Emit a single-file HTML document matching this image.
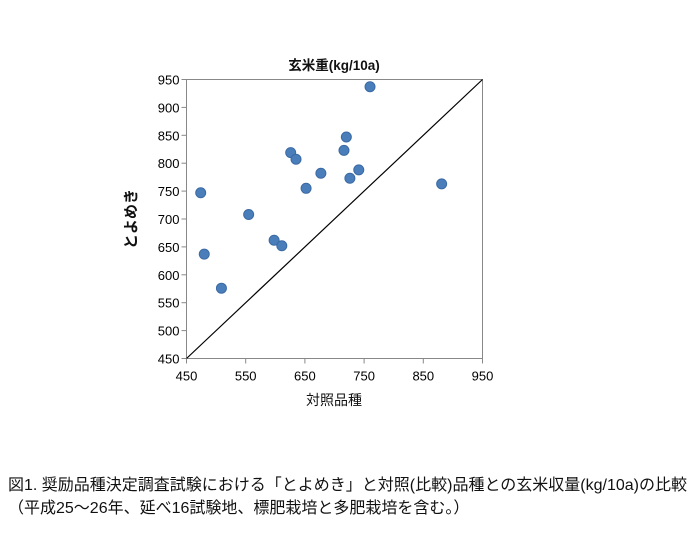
<!DOCTYPE html>
<html><head><meta charset="utf-8"><style>
body{margin:0;background:#fff;width:694px;height:536px;overflow:hidden;font-family:"Liberation Sans","Noto Sans CJK JP",sans-serif;}
.cap{position:absolute;left:8px;font-size:16px;color:#111;white-space:nowrap;}
</style></head><body>
<svg id="chart" width="694" height="430" style="position:absolute;left:0;top:0" font-family="Liberation Sans, Noto Sans CJK JP, sans-serif"></svg>
<div class="cap" style="top:471px">図1. 奨励品種決定調査試験における「とよめき」と対照(比較)品種との玄米収量(kg/10a)の比較</div>
<div class="cap" style="top:494px">（平成25～26年、延べ16試験地、標肥栽培と多肥栽培を含む。）</div>
<script>
const xVals=[760,720,716,626,635,677,741,726,652,474,881,555,598,611,480,509];
const yVals=[937,847,823,819,807,782,788,773,755,747,763,708,662,652,637,576];
const xTicks=[450,550,650,750,850,950];
const yTicks=[450,500,550,600,650,700,750,800,850,900,950];
const L=186.5,R=482.5,T=79.5,B=358.5,min=450,max=950;
const sx=v=>L+(v-min)/(max-min)*(R-L);
const sy=v=>B-(v-min)/(max-min)*(B-T);
const svg=document.getElementById('chart');const NS='http://www.w3.org/2000/svg';
function mk(t,a,txt){const e=document.createElementNS(NS,t);for(const k in a)e.setAttribute(k,a[k]);if(txt!=null)e.textContent=txt;svg.appendChild(e);return e;}
let e;
e=mk('rect',{x:L,y:T,width:R-L,height:B-T,fill:'none',stroke:'#888','stroke-width':1});


e=mk('line',{x1:sx(450),y1:sy(450),x2:sx(950),y2:sy(950),stroke:'#000','stroke-width':1.2});


xTicks.forEach(v=>{
 e=mk('line',{x1:sx(v),x2:sx(v),y1:B,y2:B+5,stroke:'#888'});
 
 
 e=mk('text',{x:sx(v),y:B+22,'text-anchor':'middle','font-size':13,fill:'#000'},v);
 
 
});
yTicks.forEach(v=>{
 e=mk('line',{x1:L-5,x2:L,y1:sy(v),y2:sy(v),stroke:'#888'});
 
 
 e=mk('text',{x:L-7,y:sy(v)+5,'text-anchor':'end','font-size':13,fill:'#000'},v);
 
 
});
xVals.forEach((x,i)=>{
 e=mk('circle',{cx:sx(x),cy:sy(yVals[i]),r:5,fill:'#4a7ebb',stroke:'#3b6aa3','stroke-width':1});
 
 
});
e=mk('text',{x:334,y:70,'text-anchor':'middle','font-size':13.5,'font-weight':'bold',fill:'#111'},'玄米重(kg/10a)');


e=mk('text',{x:334,y:405,'text-anchor':'middle','font-size':14,fill:'#111'},'対照品種');


e=mk('text',{x:0,y:0,'text-anchor':'middle','font-size':15,'font-weight':'bold',fill:'#111',transform:'translate(136,219) rotate(-90)'},'とよめき');


</script>
</body></html>
